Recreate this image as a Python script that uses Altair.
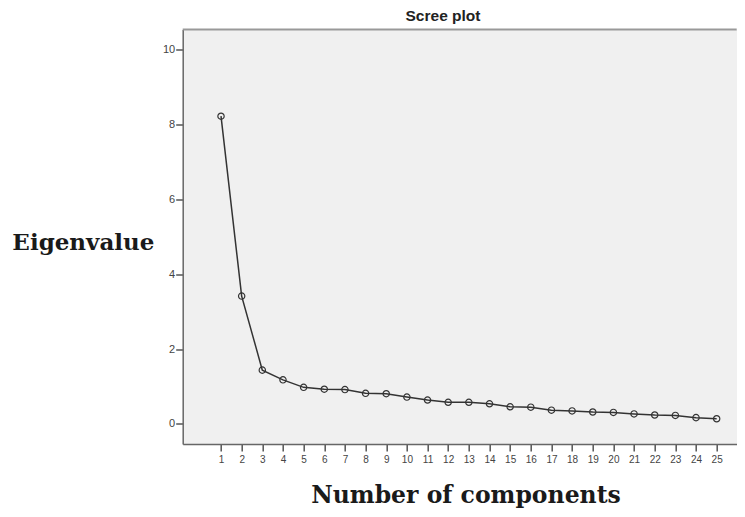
import altair as alt
import pandas as pd

components = list(range(1, 26))
eigenvalues = [8.23, 3.42, 1.44, 1.18, 0.98, 0.93, 0.92, 0.82, 0.81, 0.72,
               0.64, 0.58, 0.58, 0.54, 0.46, 0.45, 0.37, 0.35, 0.32, 0.31,
               0.27, 0.24, 0.23, 0.17, 0.14]
y_ticks = [0, 2, 4, 6, 8, 10]
chart_title = ["Scree plot"]

W, H = 554, 414.5
df = pd.DataFrame({"component": components, "eigenvalue": eigenvalues})

x_enc = alt.X(
    "component:Q",
    scale=alt.Scale(domain=[-0.855, 25.97], nice=False, zero=False),
    axis=alt.Axis(
        values=components, grid=False, labelOverlap=False, labelFlush=False,
        title="Number of components", titleFont="DejaVu Serif", titleFontSize=23.5,
        titleFontWeight="bold", titleColor="#1a1a1a", titleX=282.8, titleY=58,
        titleBaseline="alphabetic", titleAlign="center",
        tickSize=7, tickColor="#555", tickWidth=1.5, labelPadding=3,
        labelFont="Liberation Sans", labelFontSize=10, labelColor="#444",
        domainColor="#666", domainWidth=1.5,
    ),
)
y_enc = alt.Y(
    "eigenvalue:Q",
    scale=alt.Scale(domain=[-0.535, 10.548], nice=False, zero=False),
    axis=alt.Axis(
        values=y_ticks, grid=False,
        title="Eigenvalue", titleFont="DejaVu Serif", titleFontSize=23,
        titleFontWeight="bold", titleColor="#1a1a1a", titleAngle=0,
        titleX=-99.8, titleY=219.8, titleAlign="center", titleBaseline="alphabetic",
        tickSize=7, tickColor="#555", tickWidth=1.5, labelPadding=1,
        labelFont="Liberation Sans", labelFontSize=11, labelColor="#444",
        domainColor="#666", domainWidth=1.5,
    ),
)

base = alt.Chart(df)
line = base.mark_line(color="#333", strokeWidth=1.5).encode(x=x_enc, y=y_enc)
points = base.mark_point(shape="circle", filled=False, color="#333", size=40,
                         strokeWidth=1.2, opacity=1).encode(x=x_enc, y=y_enc)
top_border = alt.Chart(pd.DataFrame({"edge": ["top"]})).mark_rule(
    color="#999", strokeWidth=2).encode(x=alt.value(0), x2=alt.value(W), y=alt.value(0))
title_text = alt.Chart(pd.DataFrame({"t": chart_title})).mark_text(
    font="Liberation Sans", fontSize=15.5, fontWeight="bold", color="#222",
    align="center", baseline="alphabetic",
).encode(text="t:N", x=alt.value(443 - 182.7), y=alt.value(21 - 29.5))

chart = alt.layer(line, points, top_border, title_text).properties(
    width=W, height=H,
    autosize=alt.AutoSizeParams(type="none"),
    padding={"left": 174.7, "top": 21.5, "right": 0.3, "bottom": 65},
    view=alt.ViewBackground(fill="#f0f0f0", stroke="transparent"),
).configure_view(stroke="transparent", fill="#f0f0f0").configure(background="white")

chart.save("out.html", embed_options={"renderer": "svg", "actions": False})
